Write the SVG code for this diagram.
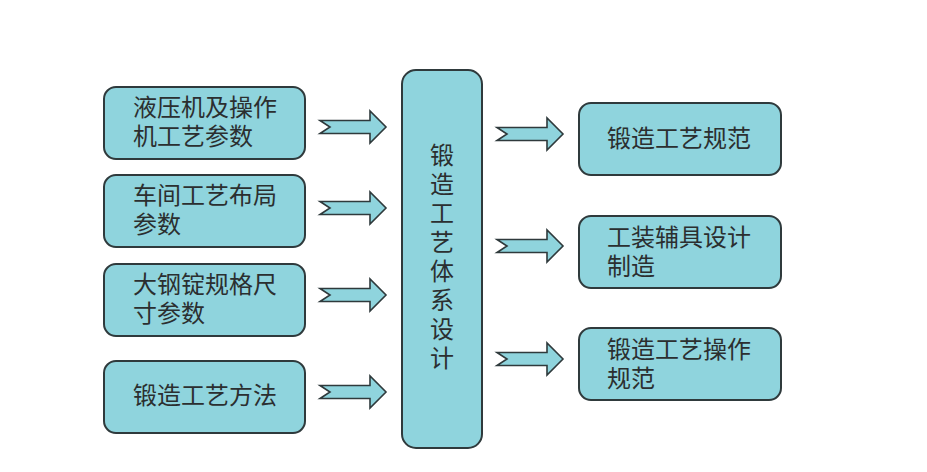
<svg xmlns="http://www.w3.org/2000/svg" width="927" height="472" viewBox="0 0 927 472">
<defs>
<style>
.box{fill:#8fd4dd;stroke:#2f3a3c;stroke-width:2}
.arr{fill:#8fd4dd;stroke:#2f3a3c;stroke-width:1.6;stroke-linejoin:miter}
text{font-family:"Noto Sans CJK SC","Noto Sans CJK JP",sans-serif;font-size:24px;fill:#2b2f30}
</style>
<path id="ar" d="M0,-6.5 H50 V-16 L66,0 L50,16 V6.5 H0 L10,0 Z"/>
</defs>
<rect width="927" height="472" fill="#ffffff"/>
<g id="n1"><rect class="box" x="104" y="87" width="201" height="72" rx="12"/><text x="133" y="116">液压机及操作</text><text x="133" y="145">机工艺参数</text></g>
<g id="n2"><rect class="box" x="104" y="175" width="201" height="72" rx="12"/><text x="133" y="204">车间工艺布局</text><text x="133" y="233">参数</text></g>
<g id="n3"><rect class="box" x="104" y="264" width="201" height="72" rx="12"/><text x="133" y="293">大钢锭规格尺</text><text x="133" y="322">寸参数</text></g>
<g id="n4"><rect class="box" x="104" y="361" width="201" height="72" rx="12"/><text x="133" y="404">锻造工艺方法</text></g>
<g id="center"><rect class="box" x="402" y="70" width="80" height="378" rx="14"/>
<text x="442" y="164" text-anchor="middle">锻</text><text x="442" y="193" text-anchor="middle">造</text><text x="442" y="222" text-anchor="middle">工</text><text x="442" y="251" text-anchor="middle">艺</text><text x="442" y="280" text-anchor="middle">体</text><text x="442" y="309" text-anchor="middle">系</text><text x="442" y="338" text-anchor="middle">设</text><text x="442" y="367" text-anchor="middle">计</text></g>
<g id="r1"><rect class="box" x="579" y="103" width="202" height="72" rx="12"/><text x="607" y="147">锻造工艺规范</text></g>
<g id="r2"><rect class="box" x="579" y="216" width="202" height="72" rx="12"/><text x="607" y="246">工装辅具设计</text><text x="607" y="275">制造</text></g>
<g id="r3"><rect class="box" x="579" y="328" width="202" height="72" rx="12"/><text x="607" y="358">锻造工艺操作</text><text x="607" y="387">规范</text></g>
<g id="connectors">
<use href="#ar" class="arr" transform="translate(320,127)"/>
<use href="#ar" class="arr" transform="translate(320,208)"/>
<use href="#ar" class="arr" transform="translate(320,295)"/>
<use href="#ar" class="arr" transform="translate(320,392)"/>
<use href="#ar" class="arr" transform="translate(497,134)"/>
<use href="#ar" class="arr" transform="translate(497,246)"/>
<use href="#ar" class="arr" transform="translate(497,359)"/>
</g>
</svg>
